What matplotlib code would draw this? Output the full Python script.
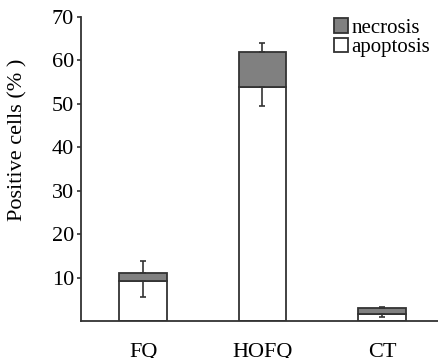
import matplotlib.pyplot as plt
import numpy as np

groups = ["FQ", "HOFQ", "CT"]
apoptosis = [9.3, 53.8, 1.6]
necrosis = [1.8, 8.2, 1.3]
apoptosis_err = [3.7, 4.2, 0.6]
total_err = [2.7, 2.1, 0.4]

plt.rcParams["font.family"] = ["Liberation Serif", "DejaVu Serif"]

fig = plt.figure(figsize=(4.38, 3.58), dpi=100)
# axes placed in pixels: left 81, bottom y=321, top (70) y=17
ax = fig.add_axes([81 / 438, 37 / 358, 357 / 438, 304 / 358])

x = np.arange(len(groups))
width = 0.4
edge = "#333333"
totals = np.array(apoptosis) + np.array(necrosis)

ax.bar(x, apoptosis, width, color="white", edgecolor=edge, linewidth=1.3,
       label="apoptosis", zorder=2)
ax.bar(x, necrosis, width, bottom=apoptosis, color="#808080", edgecolor=edge,
       linewidth=1.3, label="necrosis", zorder=2)

ax.errorbar(x, apoptosis, yerr=[apoptosis_err, [0] * 3], fmt="none",
            ecolor=edge, elinewidth=1.2, capsize=2.5, capthick=1.2, zorder=3)
ax.errorbar(x, totals, yerr=[[0] * 3, total_err], fmt="none",
            ecolor=edge, elinewidth=1.2, capsize=2.5, capthick=1.2, zorder=3)

ax.set_xlim(-0.52, 2.47)
ax.set_ylim(0, 70)
ax.set_yticks([10, 20, 30, 40, 50, 60, 70])
ax.set_xticks(x)
ax.set_xticklabels(groups, fontsize=16)
ax.tick_params(axis="x", length=0, pad=16)
ax.tick_params(axis="y", labelsize=16, length=3, width=1.2, color=edge, pad=2)
ax.set_ylabel("Positive cells (% )", fontsize=16)
ax.yaxis.set_label_coords(-0.15, 0.595)

for s in ["top", "right"]:
    ax.spines[s].set_visible(False)
for s in ["left", "bottom"]:
    ax.spines[s].set_color(edge)
    ax.spines[s].set_linewidth(1.3)

handles, labels = ax.get_legend_handles_labels()
fig.legend(handles[::-1], labels[::-1], loc="upper left",
           bbox_to_anchor=(334 / 438, 1 - 18 / 358), frameon=False,
           fontsize=15, handlelength=0.65, handleheight=0.7,
           handletextpad=0.2, labelspacing=0.0, borderpad=0,
           borderaxespad=0)

fig.savefig("out.png", dpi=100)
